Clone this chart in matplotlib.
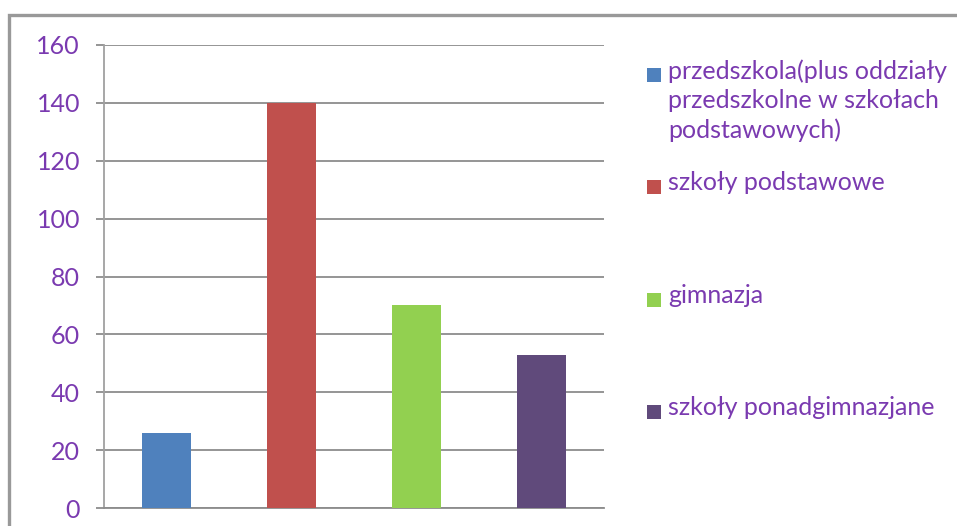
import matplotlib.pyplot as plt
from matplotlib.patches import Rectangle

# values
categories = ["przedszkola(plus oddziały\nprzedszkolne w szkołach\npodstawowych)",
              "szkoły podstawowe", "gimnazja", "szkoły ponadgimnazjane"]
values = [26, 140, 70, 53]
colors = ["#4F81BD", "#C0504D", "#92D050", "#604A7B"]
yticks = [0, 20, 40, 60, 80, 100, 120, 140, 160]

W, H = 957, 526
purple = "#7A3AB0"
grid_col = "#8C8C8C"

fig = plt.figure(figsize=(W / 100, H / 100), dpi=100)
fig.patch.set_facecolor("white")

# chart-area frame (cut off at right and bottom)
fig.patches.append(Rectangle((9 / W, -0.05), 1.2, 1 - 15 / H + 0.05,
                             transform=fig.transFigure, fill=False,
                             edgecolor="#999999", linewidth=2.4))

ax = fig.add_axes([104 / W, 1 - 508 / H, 500 / W, 463 / H])
x = list(range(len(values)))
ax.bar(x, values, width=0.39, color=colors, zorder=3)
ax.set_xlim(-0.5, len(values) - 0.5)
ax.set_ylim(0, 160)
ax.set_yticks(yticks)
ax.set_xticks([])
ax.yaxis.grid(True, color=grid_col, linewidth=1.3, zorder=0)
ax.tick_params(axis="y", colors=grid_col, length=5.8, width=1.3, labelcolor=purple,
               labelsize=18, pad=11.5)
for lab in ax.get_yticklabels():
    lab.set_fontfamily("Lato")
for side in ["top", "right"]:
    ax.spines[side].set_visible(False)
ax.spines["left"].set_color("#A0A0A0")
ax.spines["left"].set_linewidth(1.3)
ax.spines["bottom"].set_color(grid_col)
ax.spines["bottom"].set_linewidth(1.3)

# legend drawn by hand to keep Excel-like spacing
entry_y = [75, 187, 300, 412]
for lab, col, yc in zip(categories, colors, entry_y):
    fig.patches.append(Rectangle((647 / W, 1 - (yc + 7) / H), 14 / W, 14 / H,
                                 transform=fig.transFigure, facecolor=col,
                                 edgecolor="none"))
    fig.text(668 / W, 1 - (yc - 16) / H, lab, color=purple, fontsize=18,
             family="Lato", va="top", ha="left", linespacing=1.32)

fig.savefig("out.png", dpi=100)
